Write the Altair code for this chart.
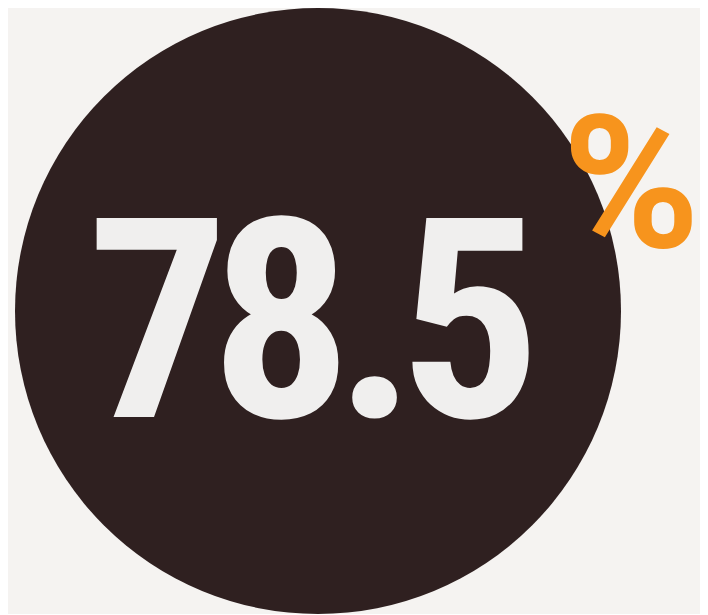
import altair as alt
import pandas as pd

# data
values = [78.5]
units = ["%"]

W, H = 692, 599
BG = "#f5f3f1"
FONT = "Roboto Condensed"
NUM_SIZE = 280
# glyph advance widths in em (tight display tracking)
ADV = {".": 0.234}
DIGIT_ADV = 0.440

label = f"{values[0]:.1f}"
chars = list(label)
adv = [ADV.get(c, DIGIT_ADV) * NUM_SIZE for c in chars]
total = sum(adv)
group_center = 306
pos, acc = [], 0.0
for a in adv:
    pos.append(group_center - total / 2 + acc + a / 2)
    acc += a
glyphs = pd.DataFrame({"ch": chars, "px": pos})

xs = alt.Scale(domain=[0, W], range=[0, W])

circle = alt.Chart(pd.DataFrame({"value": values})).mark_arc(
    color="#2f2020", radius=303, theta=0, theta2=6.2832
).encode(x=alt.value(310), y=alt.value(300))

number = alt.Chart(glyphs).mark_text(
    font=FONT, fontWeight="bold", fontSize=NUM_SIZE,
    color="#f0efee", align="center", baseline="alphabetic",
).encode(
    x=alt.X("px:Q", scale=xs, axis=None), y=alt.value(406), text="ch:N"
)

pct = alt.Chart(pd.DataFrame({"unit": units})).mark_text(
    font="Roboto", fontWeight="bold", fontSize=186,
    color="#f7941d", align="center", baseline="alphabetic",
).encode(
    x=alt.value(623), y=alt.value(236), text="unit:N"
)

chart = alt.layer(circle, number, pct).properties(
    width=W, height=H, padding=0, background=BG
).configure_view(stroke=None)

chart.save("out.html", embed_options={"renderer": "svg", "actions": False})
